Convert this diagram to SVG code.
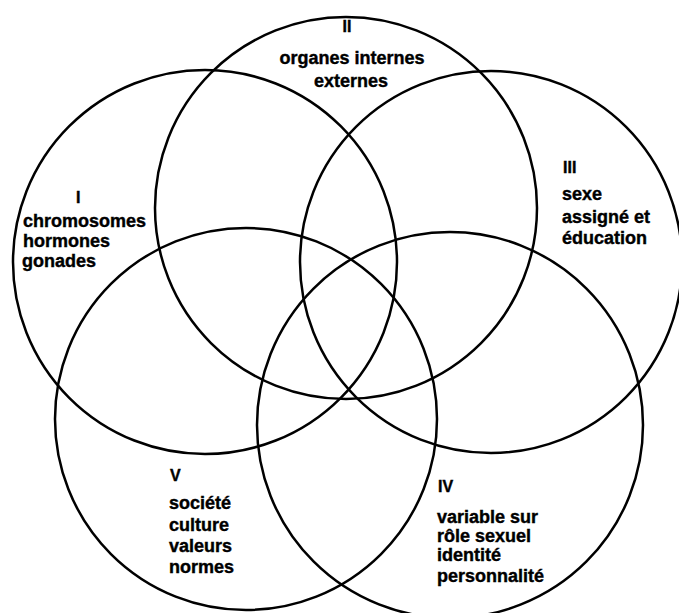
<svg xmlns="http://www.w3.org/2000/svg" width="679" height="613" viewBox="0 0 679 613">
<style>
  .c { fill: none; stroke: #000; stroke-width: 2.5; }
  .t { font-family: "Liberation Sans", Arial, sans-serif; font-weight: bold; font-size: 18px; fill: #000; stroke: #000; stroke-width: 0.4; }
  .n { font-family: "Liberation Sans", Arial, sans-serif; font-weight: bold; font-size: 16px; fill: #000; stroke: #000; stroke-width: 0.4; }
</style>
<rect x="0" y="0" width="679" height="613" fill="#fff"/>
<g id="connectors"></g>
<g id="node-I">
  <circle class="c" cx="205" cy="262" r="192"/>
  <text class="n" x="76" y="203">I</text>
  <text class="t" x="23" y="227">chromosomes</text>
  <text class="t" x="23" y="247">hormones</text>
  <text class="t" x="22" y="267">gonades</text>
</g>
<g id="node-II">
  <circle class="c" cx="346" cy="208" r="191"/>
  <text class="n" x="347" y="32" text-anchor="middle">II</text>
  <text class="t" x="352" y="64" text-anchor="middle">organes internes</text>
  <text class="t" x="351" y="87" text-anchor="middle">externes</text>
</g>
<g id="node-III">
  <circle class="c" cx="491" cy="262" r="191"/>
  <text class="n" x="563" y="173">III</text>
  <text class="t" x="562" y="200">sexe</text>
  <text class="t" x="562" y="223">assigné et</text>
  <text class="t" x="562" y="244">éducation</text>
</g>
<g id="node-IV">
  <circle class="c" cx="450" cy="425" r="193"/>
  <text class="n" x="438" y="492">IV</text>
  <text class="t" x="437" y="523">variable sur</text>
  <text class="t" x="437" y="542">rôle sexuel</text>
  <text class="t" x="437" y="561">identité</text>
  <text class="t" x="437" y="582">personnalité</text>
</g>
<g id="node-V">
  <circle class="c" cx="246" cy="419" r="191"/>
  <text class="n" x="170" y="481">V</text>
  <text class="t" x="169" y="509">société</text>
  <text class="t" x="169" y="531">culture</text>
  <text class="t" x="169" y="552">valeurs</text>
  <text class="t" x="169" y="573">normes</text>
</g>
</svg>
